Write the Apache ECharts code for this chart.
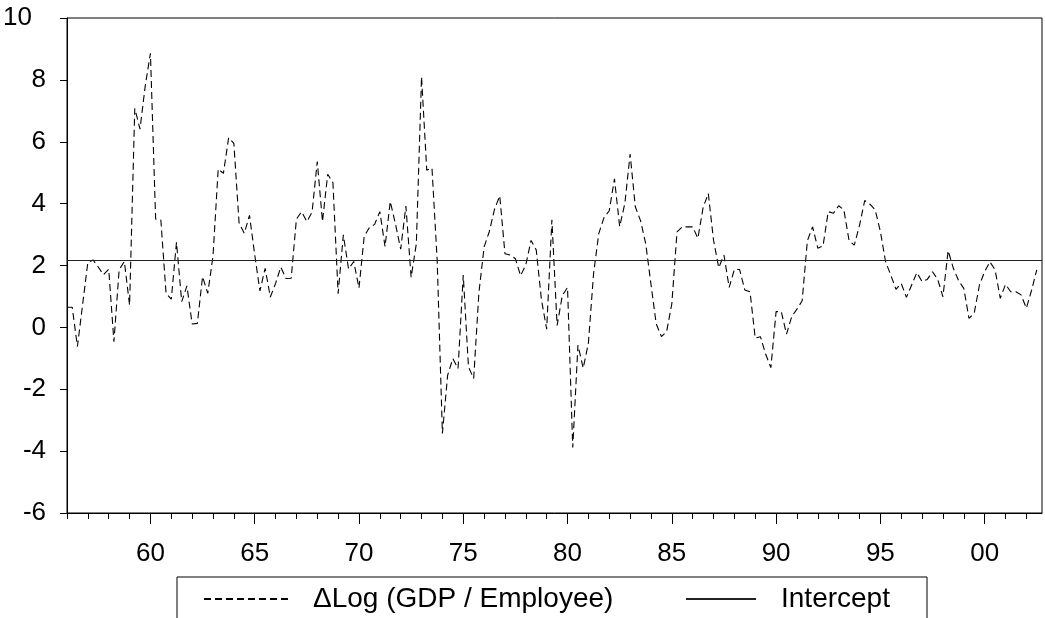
<!DOCTYPE html>
<html>
<head>
<meta charset="utf-8">
<title>ΔLog (GDP / Employee)</title>
<script src="https://cdn.jsdelivr.net/npm/echarts@6/dist/echarts.min.js"></script>
<style>
  html, body { margin: 0; padding: 0; background: #ffffff; }
  #chart { width: 1045px; height: 618px; }
</style>
</head>
<body>
<div id="chart"></div>
<script>
// Quarterly sample 1956Q1 .. 2002Q4 (last quarter has no observation)
const firstYear = 1956;
const quarterCount = 188;
const categories = [];
for (let k = 0; k < quarterCount; k++) {
  categories.push((firstYear + Math.floor(k / 4)) + 'Q' + (k % 4 + 1));
}

// Years that carry a tick label (shown as two digits)
const labelYears = [1960, 1965, 1970, 1975, 1980, 1985, 1990, 1995, 2000];

// Y axis range and step
const yTicks = [-6, -4, -2, 0, 2, 4, 6, 8, 10];

// Annualised quarterly growth of GDP per employee, 1956Q1 - 2002Q3
const dlogGdpPerEmployee = [
  0.65, 0.65, -0.62, 0.75,      // 1956
  2.10, 2.18, 1.95, 1.70,       // 1957
  1.88, -0.46, 1.86, 2.13,      // 1958
  0.72, 7.08, 6.41, 7.80,       // 1959
  8.86, 3.50, 3.47, 1.10,       // 1960
  0.91, 2.75, 0.83, 1.34,       // 1961
  0.11, 0.13, 1.64, 1.10,       // 1962
  2.30, 5.12, 4.98, 6.13,       // 1963
  5.95, 3.38, 3.04, 3.62,       // 1964
  2.35, 1.18, 1.91, 0.98,       // 1965
  1.42, 1.95, 1.58, 1.59,       // 1966
  3.50, 3.74, 3.42, 3.72,       // 1967
  5.36, 3.42, 4.95, 4.68,       // 1968
  1.09, 2.99, 1.89, 2.13,       // 1969
  1.27, 2.94, 3.23, 3.33,       // 1970
  3.74, 2.61, 4.07, 3.34,       // 1971
  2.53, 3.92, 1.62, 2.70,       // 1972
  8.10, 5.08, 5.15, 2.17,       // 1973
  -3.43, -1.55, -1.01, -1.33,   // 1974
  1.69, -1.28, -1.65, 1.12,     // 1975
  2.60, 3.10, 3.82, 4.25,       // 1976
  2.38, 2.34, 2.22, 1.67,       // 1977
  2.02, 2.81, 2.50, 0.89,       // 1978
  -0.06, 3.48, 0.06, 1.03,      // 1979
  1.29, -3.88, -0.57, -1.32,    // 1980
  -0.51, 1.75, 3.04, 3.55,      // 1981
  3.77, 4.80, 3.26, 4.01,       // 1982
  5.60, 3.90, 3.45, 2.70,       // 1983
  1.40, 0.12, -0.30, -0.14,     // 1984
  0.76, 3.09, 3.25, 3.25,       // 1985
  3.25, 2.88, 3.87, 4.33,       // 1986
  2.82, 1.93, 2.34, 1.29,       // 1987
  1.87, 1.87, 1.21, 1.15,       // 1988
  -0.35, -0.30, -0.87, -1.30,   // 1989
  0.51, 0.51, -0.22, 0.35,      // 1990
  0.59, 0.86, 2.80, 3.25,       // 1991
  2.56, 2.63, 3.74, 3.69,       // 1992
  3.93, 3.80, 2.80, 2.66,       // 1993
  3.30, 4.10, 3.98, 3.80,       // 1994
  3.10, 2.12, 1.69, 1.23,       // 1995
  1.42, 0.97, 1.37, 1.77,       // 1996
  1.48, 1.55, 1.80, 1.55,       // 1997
  0.99, 2.48, 1.91, 1.51,       // 1998
  1.26, 0.29, 0.46, 1.37,       // 1999
  1.80, 2.12, 1.86, 0.94,       // 2000
  1.39, 1.15, 1.15, 1.05,       // 2001
  0.62, 1.20, 1.86              // 2002
];

// Regression intercept (constant mean growth)
const intercept = 2.16;

const seriesNames = ['\u0394Log (GDP / Employee)', 'Intercept'];

const FONT = "'Liberation Sans', Arial, Helvetica, sans-serif";
const TICK_SIZE = 26;
const LEGEND_SIZE = 28;

function yearOf(cat) { return parseInt(cat.slice(0, 4), 10); }
function isYearStart(cat) { return cat.endsWith('Q1'); }
function isLabelQuarter(cat) { return isYearStart(cat) && labelYears.includes(yearOf(cat)); }

const chart = echarts.init(document.getElementById('chart'), null, { renderer: 'canvas' });

chart.setOption({
  animation: false,
  backgroundColor: '#ffffff',
  textStyle: { fontFamily: FONT },
  grid: {
    left: 67, right: 3, top: 18, bottom: 105,
    show: true, borderColor: '#000000', borderWidth: 1,
    containLabel: false
  },
  xAxis: [
    {
      type: 'category',
      data: categories,
      boundaryGap: false,
      position: 'bottom',
      axisLine: { show: true, onZero: false, lineStyle: { color: '#000000', width: 1 } },
      axisTick: {
        show: true, length: 11, inside: false,
        interval: (idx, cat) => isLabelQuarter(cat),
        lineStyle: { color: '#000000', width: 1 }
      },
      axisLabel: {
        show: true,
        interval: (idx, cat) => isLabelQuarter(cat),
        formatter: cat => String(yearOf(cat) % 100).padStart(2, '0'),
        color: '#000000', fontSize: TICK_SIZE, fontFamily: FONT, margin: 28
      },
      splitLine: { show: false }
    },
    {
      type: 'category',
      data: categories,
      boundaryGap: false,
      position: 'bottom',
      axisLine: { show: false, onZero: false },
      axisTick: {
        show: true, length: 6, inside: false,
        interval: (idx, cat) => isYearStart(cat),
        lineStyle: { color: '#000000', width: 1 }
      },
      axisLabel: { show: false },
      splitLine: { show: false }
    }
  ],
  yAxis: {
    type: 'value',
    min: yTicks[0],
    max: yTicks[yTicks.length - 1],
    interval: yTicks[1] - yTicks[0],
    axisLine: { show: true, lineStyle: { color: '#000000', width: 1 } },
    axisTick: { show: true, length: 7, inside: false, lineStyle: { color: '#000000', width: 1 } },
    axisLabel: {
      color: '#000000', fontSize: TICK_SIZE, fontFamily: FONT, margin: 21,
      // the top label sits further left, clear of the frame corner
      formatter: v => (v === yTicks[yTicks.length - 1] ? '{top|' + v + '}' : String(v)),
      rich: {
        top: { color: '#000000', fontSize: TICK_SIZE, fontFamily: FONT, padding: [0, 14, 0, 0] }
      }
    },
    splitLine: { show: false }
  },
  legend: [
    {
      data: [seriesNames[0]],
      left: 203, top: 585, padding: 0,
      itemWidth: 87, itemHeight: 14,
      selectedMode: false,
      itemStyle: { opacity: 0 },
      textStyle: { color: '#000000', fontSize: LEGEND_SIZE, fontFamily: FONT, padding: [0, 0, 0, 17] }
    },
    {
      data: [seriesNames[1]],
      left: 685, top: 585, padding: 0,
      itemWidth: 70, itemHeight: 14,
      selectedMode: false,
      itemStyle: { opacity: 0 },
      textStyle: { color: '#000000', fontSize: LEGEND_SIZE, fontFamily: FONT, padding: [0, 0, 0, 20] }
    }
  ],
  graphic: [
    {
      type: 'rect',
      silent: true,
      shape: { x: 177, y: 577, width: 750, height: 60 },
      style: { fill: 'none', stroke: '#000000', lineWidth: 1 }
    }
  ],
  series: [
    {
      name: seriesNames[0],
      type: 'line',
      xAxisIndex: 0,
      data: dlogGdpPerEmployee,
      showSymbol: false,
      symbol: 'none',
      smooth: false,
      itemStyle: { color: '#000000' },
      lineStyle: { color: '#000000', width: 1.1, type: [7, 4] },
      z: 3
    },
    {
      name: seriesNames[1],
      type: 'line',
      xAxisIndex: 0,
      data: [],
      showSymbol: false,
      symbol: 'none',
      itemStyle: { color: '#222222' },
      lineStyle: { color: '#222222', width: 1.2, type: 'solid' },
      markLine: {
        silent: true,
        symbol: ['none', 'none'],
        label: { show: false },
        lineStyle: { color: '#222222', width: 1.2, type: 'solid' },
        data: [{ yAxis: intercept }]
      },
      z: 2
    }
  ]
});
</script>
</body>
</html>
